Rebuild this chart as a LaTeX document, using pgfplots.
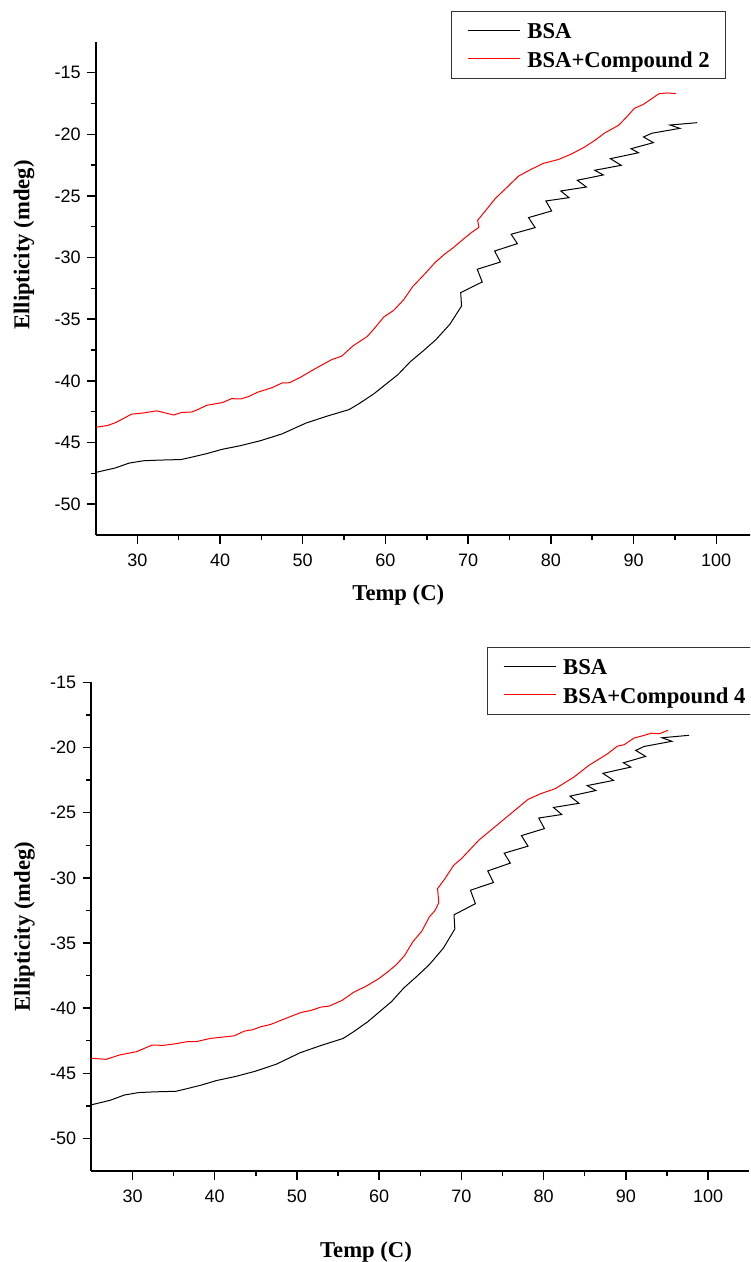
\documentclass[border=0pt]{standalone}
\usepackage{fontspec}
\setmainfont{Liberation Serif}
\newfontfamily\sansf{Liberation Sans}
\usepackage{pgfplots}
\usepackage{pgfplotstable}
\pgfplotsset{compat=1.18}

\pgfplotstableread{
x y
25.0 -47.42
27.3 -47.07
29.0 -46.67
30.75 -46.48
32.5 -46.43
35.3 -46.38
36.5 -46.20
38.4 -45.90
40.2 -45.56
42.5 -45.25
44.9 -44.85
47.5 -44.30
50.4 -43.42
53.0 -42.85
55.6 -42.33
56.8 -41.85
58.6 -41.05
60.0 -40.30
61.5 -39.50
63.0 -38.45
64.6 -37.55
66.1 -36.66
67.8 -35.40
69.2 -33.93
69.1 -32.84
71.7 -31.98
71.1 -30.95
73.9 -30.36
73.2 -29.47
75.95 -28.87
75.2 -28.11
78.1 -27.57
77.3 -26.76
80.1 -26.22
79.4 -25.41
82.2 -25.14
81.2 -24.60
84.3 -24.28
83.2 -23.73
86.35 -23.30
85.3 -22.92
88.5 -22.52
87.2 -21.98
90.6 -21.50
89.7 -21.17
92.4 -20.68
91.2 -20.22
92.2 -19.92
95.6 -19.52
94.4 -19.25
97.7 -19.06
}\bsa

\pgfplotstableread{
x y
25.0 -43.76
26.4 -43.62
27.4 -43.38
29.3 -42.70
30.75 -42.60
32.35 -42.43
34.4 -42.77
35.4 -42.55
36.5 -42.54
37.3 -42.33
38.4 -41.98
40.3 -41.76
41.4 -41.44
42.5 -41.47
43.5 -41.26
44.5 -40.93
46.3 -40.55
47.5 -40.17
48.4 -40.15
49.8 -39.68
51.4 -39.05
53.5 -38.28
54.7 -38.00
56.1 -37.15
57.8 -36.40
58.7 -35.72
59.8 -34.82
61.0 -34.28
62.2 -33.42
63.3 -32.35
64.8 -31.30
66.0 -30.40
67.2 -29.70
68.2 -29.20
69.5 -28.46
70.4 -27.97
71.3 -27.55
71.15 -26.98
72.1 -26.20
73.3 -25.20
74.7 -24.30
76.1 -23.39
77.6 -22.85
79.1 -22.36
80.9 -22.05
82.5 -21.60
84.1 -21.03
85.4 -20.46
86.5 -19.90
88.2 -19.27
89.3 -18.50
90.1 -17.90
91.2 -17.57
93.1 -16.70
94.1 -16.65
95.1 -16.70
}\cmpa

\pgfplotstableread{
x y
25.0 -43.85
26.8 -43.93
28.4 -43.60
30.5 -43.34
32.4 -42.83
33.7 -42.86
35.3 -42.73
36.6 -42.58
37.7 -42.58
39.5 -42.32
41.0 -42.22
42.4 -42.12
43.6 -41.76
44.6 -41.66
45.6 -41.43
46.8 -41.25
48.2 -40.90
49.4 -40.60
50.5 -40.33
51.7 -40.18
52.9 -39.92
53.9 -39.85
55.5 -39.40
56.9 -38.78
58.4 -38.32
59.9 -37.76
61.0 -37.24
62.1 -36.66
63.1 -35.95
64.1 -34.90
65.2 -34.08
66.1 -33.00
66.8 -32.50
67.25 -31.90
67.1 -30.83
68.0 -30.06
69.05 -29.04
70.05 -28.50
72.1 -27.12
73.8 -26.23
75.9 -25.13
78.1 -23.98
79.65 -23.54
81.4 -23.16
83.7 -22.26
85.5 -21.37
87.8 -20.47
88.95 -19.90
89.8 -19.78
91.0 -19.27
92.2 -19.07
93.1 -18.90
94.1 -18.94
95.1 -18.68
}\cmpb

\pgfplotsset{
  cdstyle/.style={
    scale only axis,
    axis lines=left,
    axis line style={-, line width=1.5pt},
    xmin=25, xmax=105,
    ymin=-52.5,
    xtick={30,40,...,100},
    ytick={-50,-45,...,-15},
    minor x tick num=1,
    minor y tick num=1,
    tick align=outside,
    major tick length=6.5pt,
    minor tick length=4pt,
    every tick/.style={line width=1.1pt, black},
    /pgf/number format/assume math mode=true,
    tick label style={font=\sansf\fontsize{13.5}{15}\selectfont},
    xticklabel style={yshift=-4.5pt},
    yticklabel style={xshift=-1.5pt},
    label style={font=\bfseries\fontsize{17}{20}\selectfont},
    xlabel={Temp (C)},
    ylabel={Ellipticity (mdeg)},
    legend cell align=left,
    legend image code/.code={\draw[#1] (0pt,0.5pt) -- (39pt,0.5pt);},
    legend style={
      draw=black!80, line width=1.1pt,
      font=\bfseries\fontsize{17}{20}\selectfont,
      inner xsep=11.8pt, inner ysep=4pt,
      row sep=0.15pt, column sep=5.25pt,
      nodes={inner sep=0pt, text height=16.6pt, text depth=4.45pt},
      anchor=north west,
    },
  },
}

\begin{document}
\begin{tikzpicture}
\path[use as bounding box, clip] (0pt,0pt) rectangle (562.5pt,946.5pt);

\begin{axis}[cdstyle,
  at={(72pt,545.25pt)}, anchor=south west,
  width=496.2pt, height=369.9pt,
  ymax=-12.5,
  xlabel style={at={(axis description cs:0.457,-0.1217)}, anchor=center},
  ylabel style={at={(axis description cs:-0.1088,0.588)}, anchor=center},
  legend style={at={(axis description cs:0.5366,1.063)}},
]
\addplot[black, line width=0.75pt] table[x=x,y=y] {\bsa};
\addlegendentry{BSA}
\addplot[red, line width=0.75pt] table[x=x,y=y] {\cmpa};
\addlegendentry{BSA+Compound 2}
\end{axis}

\begin{axis}[cdstyle,
  at={(68.55pt,68.25pt)}, anchor=south west,
  width=493.35pt, height=366.45pt,
  ymax=-15,
  xlabel style={at={(axis description cs:0.4175,-0.165)}, anchor=center},
  ylabel style={at={(axis description cs:-0.1017,0.5)}, anchor=center},
  legend style={at={(axis description cs:0.601,1.073)}},
]
\addplot[black, line width=0.75pt] table[x=x,y=y] {\bsa};
\addlegendentry{BSA}
\addplot[red, line width=0.75pt] table[x=x,y=y] {\cmpb};
\addlegendentry{BSA+Compound 4}
\end{axis}
\end{tikzpicture}
\end{document}
